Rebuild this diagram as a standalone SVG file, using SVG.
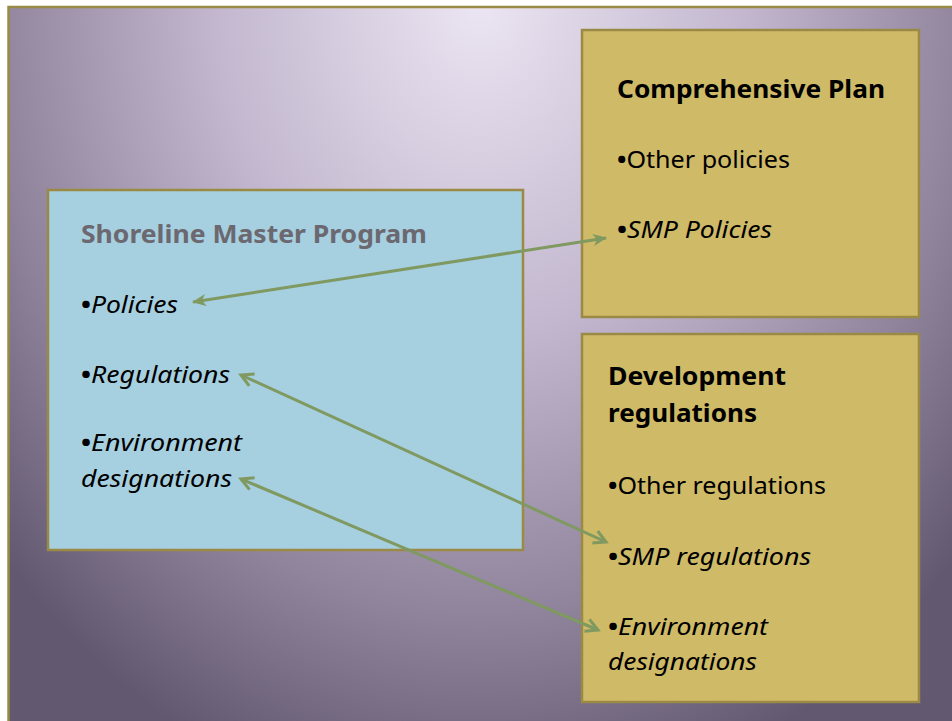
<svg xmlns="http://www.w3.org/2000/svg" width="952" height="721" viewBox="0 0 952 721">
<style>
.box{stroke:#9b8a45;stroke-width:2.5}
.blue{fill:#a6cfdf}
.gold{fill:#cfba67}
.t{font-family:"Noto Sans","Open Sans","Liberation Sans",sans-serif;fill:#000}
.h{font-weight:bold;font-size:25px}
.b{font-size:23px}
.i{font-style:italic}
.bu{font-weight:bold;font-style:normal}
.conn{stroke:#7f9960;fill:none}
</style>
<defs>
<radialGradient id="bg" gradientUnits="userSpaceOnUse" cx="0" cy="0" r="1" gradientTransform="translate(480,0) scale(650,820)">
<stop offset="0" stop-color="#ece5f2"/>
<stop offset="0.4" stop-color="#c3b8cf"/>
<stop offset="0.75" stop-color="#8f849c"/>
<stop offset="1" stop-color="#625870"/>
</radialGradient>
<marker id="tri" viewBox="0 0 14 12" markerWidth="14" markerHeight="12" refX="13" refY="6" orient="auto-start-reverse" markerUnits="userSpaceOnUse">
<path d="M0,0 L14,6 L0,12 L4,6 z" fill="#7f9960"/>
</marker>
<marker id="chev" viewBox="0 0 16 16" markerWidth="16" markerHeight="16" refX="14" refY="8" orient="auto-start-reverse" markerUnits="userSpaceOnUse" overflow="visible">
<path d="M2,1.5 L14,8 L2,14.5" fill="none" stroke="#7f9960" stroke-width="3" stroke-linejoin="miter"/>
</marker>
</defs>
<rect x="0" y="0" width="952" height="721" fill="#ffffff"/>
<rect x="8" y="6" width="944" height="715" fill="url(#bg)"/>
<path d="M8.5,721 L8.5,7 L952,7" fill="none" stroke="#9b8a45" stroke-width="2.5"/>

<g id="smp">
<rect class="box blue" x="48" y="190" width="475" height="360"/>
<text class="t h" x="81" y="243" style="fill:#6b6870" textLength="346" lengthAdjust="spacingAndGlyphs">Shoreline Master Program</text>
<text class="t b" x="81" y="313" textLength="97" lengthAdjust="spacingAndGlyphs"><tspan class="bu">•</tspan><tspan class="i">Policies</tspan></text>
<text class="t b" x="81" y="383" textLength="149" lengthAdjust="spacingAndGlyphs"><tspan class="bu">•</tspan><tspan class="i">Regulations</tspan></text>
<text class="t b" x="81" y="451" textLength="161" lengthAdjust="spacingAndGlyphs"><tspan class="bu">•</tspan><tspan class="i">Environment</tspan></text>
<text class="t b i" x="81" y="487" textLength="151" lengthAdjust="spacingAndGlyphs">designations</text>
</g>

<g id="comp">
<rect class="box gold" x="582" y="30" width="337" height="287"/>
<text class="t h" x="617" y="98" textLength="268" lengthAdjust="spacingAndGlyphs">Comprehensive Plan</text>
<text class="t b" x="617" y="168" textLength="173" lengthAdjust="spacingAndGlyphs"><tspan class="bu">•</tspan>Other policies</text>
<text class="t b" x="617" y="238" textLength="155" lengthAdjust="spacingAndGlyphs"><tspan class="bu">•</tspan><tspan class="i">SMP Policies</tspan></text>
</g>

<g id="dev">
<rect class="box gold" x="582" y="334" width="337" height="368"/>
<text class="t h" x="608" y="385" textLength="178" lengthAdjust="spacingAndGlyphs">Development</text>
<text class="t h" x="608" y="422" textLength="149" lengthAdjust="spacingAndGlyphs">regulations</text>
<text class="t b" x="608" y="494" textLength="218" lengthAdjust="spacingAndGlyphs"><tspan class="bu">•</tspan>Other regulations</text>
<text class="t b" x="608" y="565" textLength="203" lengthAdjust="spacingAndGlyphs"><tspan class="bu">•</tspan><tspan class="i">SMP regulations</tspan></text>
<text class="t b" x="608" y="635" textLength="160" lengthAdjust="spacingAndGlyphs"><tspan class="bu">•</tspan><tspan class="i">Environment</tspan></text>
<text class="t b i" x="608" y="670" textLength="149" lengthAdjust="spacingAndGlyphs">designations</text>
</g>

<g id="connectors">
<line class="conn" x1="193" y1="302" x2="606" y2="238" stroke-width="3" marker-start="url(#tri)" marker-end="url(#tri)"/>
<line class="conn" x1="241" y1="375" x2="606" y2="542" stroke-width="3" marker-start="url(#chev)" marker-end="url(#chev)"/>
<line class="conn" x1="241" y1="479" x2="598" y2="630" stroke-width="3" marker-start="url(#chev)" marker-end="url(#chev)"/>
</g>
</svg>
